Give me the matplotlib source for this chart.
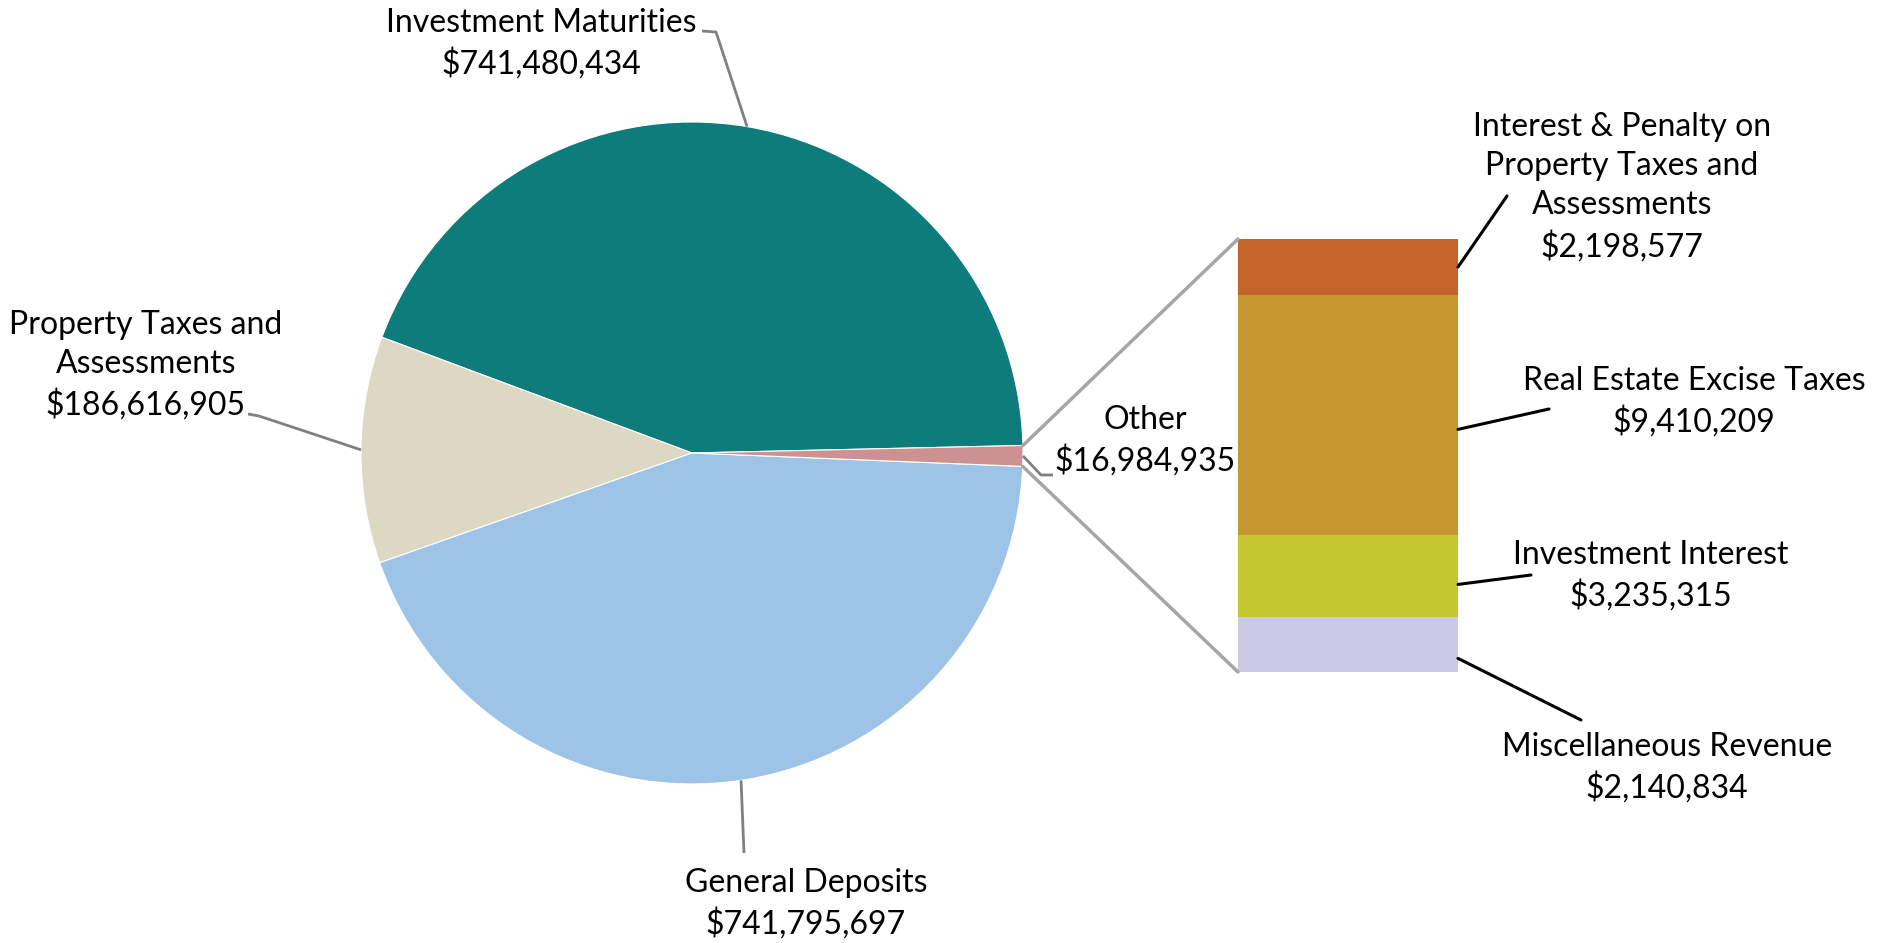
import matplotlib
matplotlib.use("Agg")
import matplotlib.pyplot as plt
from matplotlib.patches import ConnectionPatch
import numpy as np

# ---- data ----
pie_labels = ["Investment Maturities", "Property Taxes and\nAssessments", "General Deposits", "Other"]
pie_values = [741480434, 186616905, 741795697, 16984935]
pie_colors = ["#0E7C7B", "#DCD8C3", "#9DC3E6", "#CD9191"]

bar_labels = ["Miscellaneous Revenue", "Investment Interest", "Real Estate Excise Taxes",
              "Interest & Penalty on\nProperty Taxes and\nAssessments"]
bar_values = [2140834, 3235315, 9410209, 2198577]
bar_colors = ["#CBC9E3", "#C5C62F", "#C5972E", "#C3652A"]

W, H = 1881, 943
plt.rcParams['font.family'] = ['Lato', 'DejaVu Sans']
FS = 23
LS = 1.38

fig = plt.figure(figsize=(W / 100, H / 100), dpi=100)
ax = fig.add_axes([0, 0, 1, 1])

def Y(y):
    return H - y

cx, cy, R = 692, Y(453), 331
wedges, _ = ax.pie(pie_values, colors=pie_colors, startangle=1.3, counterclock=True,
                   center=(cx, cy), radius=R, frame=True,
                   wedgeprops=dict(edgecolor="white", linewidth=0.8))
ax.set_xlim(0, W)
ax.set_ylim(0, H)
ax.set_aspect('equal')
ax.axis('off')

def fmt(v):
    return "${:,}".format(v)

def edge_point(w):
    a = np.deg2rad((w.theta1 + w.theta2) / 2)
    return cx + R * np.cos(a), cy + R * np.sin(a)

# pie labels: (text center, leader path elbow points)
pie_text_pos = [(541, 44), (146, 365), (806, 904), (1145, 441)]
pie_leader = [[(716, 32), (702, 31)],
              [(259, 416), (248, 414)],
              [(744, 853)],
              [(1041, 475), (1053, 475)]]
for w, lab, val, tp, ld in zip(wedges, pie_labels, pie_values, pie_text_pos, pie_leader):
    ex, ey = edge_point(w)
    xs = [ex] + [p[0] for p in ld]
    ys = [ey] + [Y(p[1]) for p in ld]
    ax.plot(xs, ys, color="#808080", lw=2.0, solid_capstyle='butt')
    ax.text(tp[0], Y(tp[1]), lab + "\n" + fmt(val), ha='center', va='center',
            fontsize=FS, linespacing=LS, color='black')

# bar of "Other"
bx0, by0, bw, bh = 1238, 239, 220, 433
axb = fig.add_axes([bx0 / W, (H - by0 - bh) / H, bw / W, bh / H])
total = sum(bar_values)
bottom = 0
mids = []
for v, c in zip(bar_values, bar_colors):
    axb.bar(0, v, bottom=bottom, width=1.0, color=c, edgecolor='none')
    mids.append(bottom + v / 2)
    bottom += v
axb.set_xlim(-0.5, 0.5)
axb.set_ylim(0, total)
axb.axis('off')

# connectors from Other wedge to bar
wo = wedges[3]
for th, yb in [(wo.theta2, total), (wo.theta1, 0)]:
    a = np.deg2rad(th)
    p = (cx + R * np.cos(a), cy + R * np.sin(a))
    con = ConnectionPatch(xyA=p, coordsA=ax.transData, xyB=(-0.5, yb), coordsB=axb.transData,
                          color="#A6A6A6", lw=2.5)
    fig.add_artist(con)

# bar labels
bar_text_pos = [(1667, 768), (1651, 576), (1694, 402), (1622, 187)]
bar_leader_end = [(1581, 720), (1531, 575), (1549, 409), (1507, 196)]
bar_leader_off = [-0.25, -0.1, -0.06, 0.0]
for lab, val, m, v, tp, le, off in zip(bar_labels, bar_values, mids, bar_values,
                                       bar_text_pos, bar_leader_end, bar_leader_off):
    p = (0.5, m + off * v)
    con = ConnectionPatch(xyA=p, coordsA=axb.transData, xyB=(le[0], Y(le[1])), coordsB=ax.transData,
                          color="black", lw=2.2)
    fig.add_artist(con)
    ax.text(tp[0], Y(tp[1]), lab + "\n" + fmt(val), ha='center', va='center',
            fontsize=FS, linespacing=LS, color='black')

fig.savefig("out.png", dpi=100, facecolor='white')
